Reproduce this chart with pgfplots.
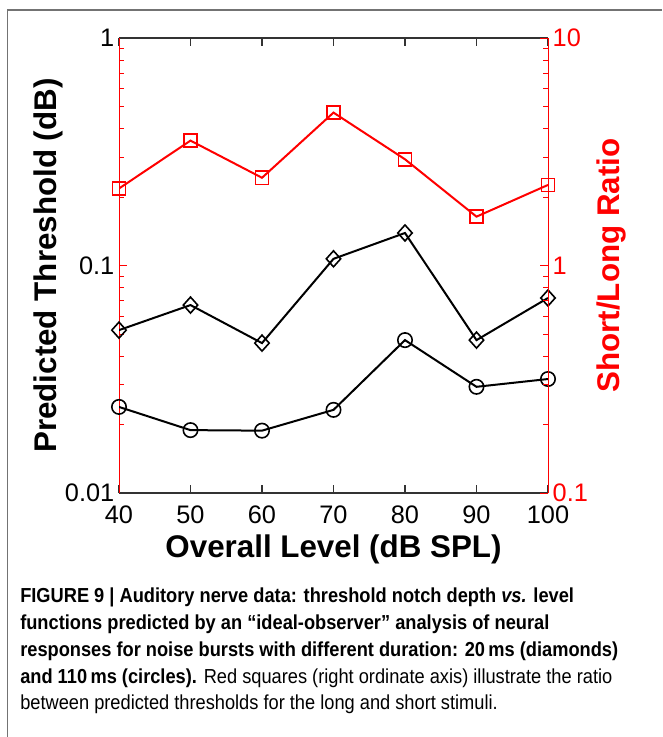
\documentclass[border=0pt]{standalone}
\usepackage{fontspec}
\setmainfont{Liberation Sans}
\newfontfamily\capfont[FakeStretch=0.9]{Liberation Sans}
\usepackage{pgfplots}
\pgfplotsset{compat=1.18}

% level, 20 ms (diamonds), 110 ms (circles), short/long ratio
\pgfplotstableread{
level diamond circle ratio
40  0.0520 0.0239 2.18
50  0.0670 0.0189 3.54
60  0.0456 0.0188 2.43
70  0.1070 0.0232 4.70
80  0.1390 0.0470 2.93
90  0.0470 0.0293 1.64
100 0.0720 0.0317 2.26
}\datatable

\begin{document}
\begin{tikzpicture}
\begin{scope}[x=0.75pt,y=-0.75pt]
\useasboundingbox (0,0) rectangle (662,737);
\draw[black!55, line width=1.1pt] (7.5,737) -- (7.5,10) -- (662,10);
\end{scope}

\pgfplotsset{
  common/.style={
    at={(89.25pt,-369.75pt)}, anchor=south west,
    width=321.75pt, height=341.25pt, scale only axis,
    xmin=40, xmax=100,
    tick align=inside,
    major tick length=6pt, minor tick length=3.5pt,
    tick label style={font=\fontsize{19}{19}\selectfont},
    y axis line style={red, line width=0.6pt},
    y tick style={red, line width=0.6pt},
    /pgf/number format/assume math mode=true,
  },
}

\begin{axis}[common,
  xtick={40,50,...,100}, xtick pos=both,
  xticklabel style={yshift=-6pt},
  ymode=log, ymin=0.01, ymax=1,
  ytick={0.01,0.1,1}, yticklabels={0.01,0.1,1}, ytick pos=left,
  separate axis lines,
  x axis line style={black!80, line width=0.9pt},
  x tick style={black!80, line width=0.8pt},
  xlabel={Overall Level (dB SPL)},
  ylabel={Predicted Threshold (dB)},
  xlabel style={font=\bfseries\fontsize{23.5}{23.5}\selectfont,
    at={(axis description cs:0.5,-0.125)}, anchor=center},
  ylabel style={font=\bfseries\fontsize{23.5}{23.5}\selectfont,
    at={(axis description cs:-0.1655,0.5)}, anchor=center},
]
\addplot[black, line width=1.5pt, mark=diamond, mark size=6pt,
  mark options={solid, fill=none, line width=1.2pt, xscale=1.2}]
  table[x=level, y=diamond] {\datatable};
\addplot[black, line width=1.5pt, mark=o, mark size=5.4pt,
  mark options={solid, fill=none, line width=1.2pt}]
  table[x=level, y=circle] {\datatable};
\end{axis}

\begin{axis}[common,
  axis x line=none, axis y line*=right,
  ymode=log, ymin=0.1, ymax=10,
  ytick={0.1,1,10}, yticklabels={0.1,1,10},
  yticklabel style={red},
  ylabel={Short/Long Ratio},
  ylabel style={font=\bfseries\fontsize{23.5}{23.5}\selectfont, red,
    at={(axis description cs:1.149,0.5)}, anchor=center},
]
\addplot[red, line width=1.5pt, mark=square, mark size=4.9pt,
  mark options={solid, fill=none, line width=1.2pt}]
  table[x=level, y=ratio] {\datatable};
\end{axis}

\begin{scope}[x=0.75pt,y=-0.75pt,
  every node/.style={anchor=base west, inner sep=0pt,
    font=\capfont\fontsize{15.2}{15.2}\selectfont}]
\node at (20,602) {\bfseries FIGURE 9 | Auditory nerve data: threshold notch depth \textit{vs.} level};
\node at (20,629) {\bfseries functions predicted by an “ideal-observer” analysis of neural};
\node at (20,656) {\bfseries responses for noise bursts with different duration: 20\,ms (diamonds)};
\node at (20,683) {\textbf{and 110\,ms (circles).} Red squares (right ordinate axis) illustrate the ratio};
\node at (20,709) {between predicted thresholds for the long and short stimuli.};
\end{scope}
\end{tikzpicture}
\end{document}
